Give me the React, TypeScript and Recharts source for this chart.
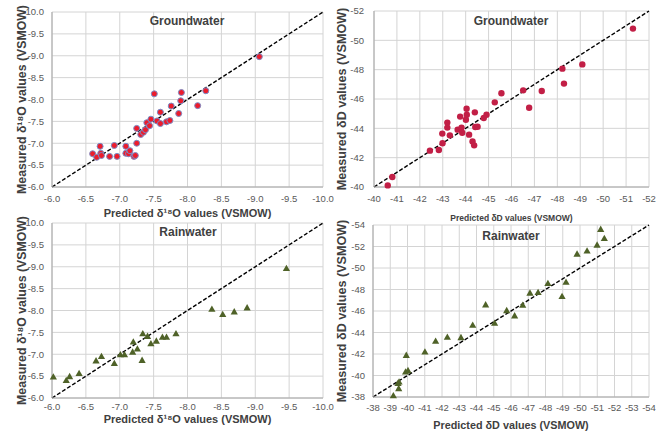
import { ScatterChart, Scatter, XAxis, YAxis, CartesianGrid, ReferenceLine } from "recharts";

// Groundwater, δ18O
const gwO18Predicted = [-6.6, -6.66, -6.71, -6.72, -6.73, -6.85, -6.92, -6.96, -7.09, -7.09, -7.13, -7.15, -7.21, -7.23, -7.25, -7.25, -7.31, -7.35, -7.38, -7.4, -7.44, -7.46, -7.51, -7.55, -7.6, -7.6, -7.69, -7.74, -7.76, -7.87, -7.91, -7.9, -8.15, -8.27, -9.06];
const gwO18Measured = [-6.76, -6.68, -6.93, -6.77, -6.72, -6.7, -6.95, -6.7, -6.93, -6.77, -6.76, -6.83, -6.7, -6.72, -7.0, -7.34, -7.2, -7.25, -7.31, -7.47, -7.4, -7.55, -8.13, -7.51, -7.71, -7.45, -7.49, -7.52, -7.85, -7.68, -8.16, -7.97, -7.86, -8.2, -8.98];

// Groundwater, δD
const gwDPredicted = [-40.6, -40.8, -42.44, -42.83, -42.98, -42.99, -43.2, -43.2, -43.31, -43.65, -43.76, -43.82, -43.85, -44.01, -44.04, -44.05, -44.15, -44.3, -44.37, -44.4, -44.42, -44.52, -44.79, -44.91, -45.27, -45.56, -46.51, -46.77, -47.32, -48.22, -48.29, -49.09, -51.3];
const gwDMeasured = [-40.11, -40.68, -42.48, -42.52, -43.64, -42.98, -44.05, -44.39, -43.52, -43.91, -44.8, -44.05, -43.7, -44.59, -45.34, -44.93, -43.57, -43.11, -42.84, -45.09, -44.09, -44.11, -44.7, -44.93, -45.77, -46.39, -46.59, -45.4, -46.55, -48.07, -47.05, -48.36, -50.8];

// Rainwater, δ18O
const rwO18Predicted = [-6.02, -6.21, -6.26, -6.4, -6.65, -6.73, -6.92, -7.01, -7.07, -7.19, -7.2, -7.26, -7.33, -7.34, -7.41, -7.46, -7.54, -7.63, -7.69, -7.83, -8.36, -8.52, -8.69, -8.88, -9.46];
const rwO18Measured = [-6.48, -6.4, -6.49, -6.56, -6.85, -6.95, -6.79, -6.99, -6.99, -7.05, -7.28, -7.12, -6.86, -7.47, -7.41, -7.24, -7.3, -7.39, -7.39, -7.47, -8.03, -7.91, -7.97, -8.06, -8.96];

// Rainwater, δD
const rwDPredicted = [-39.18, -39.45, -39.49, -39.51, -39.89, -40.03, -39.93, -41.01, -41.63, -42.31, -43.1, -43.78, -44.53, -45.05, -45.75, -46.21, -46.68, -47.1, -47.57, -48.14, -48.96, -49.19, -49.83, -50.41, -50.99, -51.2, -51.41];
const rwDMeasured = [-38.12, -39.27, -38.78, -39.4, -40.33, -40.45, -41.88, -42.19, -43.19, -43.56, -43.53, -44.68, -46.57, -44.86, -46.04, -45.55, -46.54, -47.66, -47.72, -48.56, -47.35, -48.68, -51.3, -51.58, -52.13, -53.59, -52.75];

const o18Ticks = [-6, -6.5, -7, -7.5, -8, -8.5, -9, -9.5, -10];
const gwDXTicks = [-40, -41, -42, -43, -44, -45, -46, -47, -48, -49, -50, -51, -52];
const gwDYTicks = [-40, -42, -44, -46, -48, -50, -52];
const rwDXTicks = [-38, -39, -40, -41, -42, -43, -44, -45, -46, -47, -48, -49, -50, -51, -52, -53, -54];
const rwDYTicks = [-38, -40, -42, -44, -46, -48, -50, -52, -54];

const FONT = "'Liberation Sans Narrow', 'Liberation Sans', Arial, sans-serif";

const zip = (xs: number[], ys: number[]) => xs.map((x, i) => ({ x, y: ys[i] }));

const redDot = (p: any) => <circle cx={p.cx} cy={p.cy} r={3} fill="#ec1c2c" stroke="#7b8cc6" strokeWidth={1} />;
const crimsonDot = (p: any) => <circle cx={p.cx} cy={p.cy} r={3.2} fill="#c21f46" />;
const triangle = (p: any) => (
  <path d={`M${p.cx},${p.cy - 3.8} L${p.cx + 3.6},${p.cy + 2.6} L${p.cx - 3.6},${p.cy + 2.6} Z`} fill="#4f6228" />
);

type PanelProps = {
  left: number;
  top: number;
  width: number;
  height: number;
  margin: { top: number; right: number };
  yWidth: number;
  xHeight: number;
  data: { x: number; y: number }[];
  xTicks: number[];
  yTicks: number[];
  decimals: number;
  title: string;
  titleX: number;
  titleY: number;
  xLabel: string;
  yLabel: string;
  xLabelSize: number;
  yLabelSize: number;
  yLabelX: number;
  xLabelOffset: number;
  xTickGap: number;
  yTickGap: number;
  shape: (p: any) => any;
};

function Panel(p: PanelProps) {
  const lo = p.xTicks[0];
  const hi = p.xTicks[p.xTicks.length - 1];
  const fmt = (v: number) => v.toFixed(p.decimals);
  return (
    <div style={{ position: "absolute", left: p.left, top: p.top, width: p.width, height: p.height }}>
      <ScatterChart width={p.width} height={p.height} margin={{ top: p.margin.top, right: p.margin.right, left: 0, bottom: 0 }}>
        <CartesianGrid stroke="#d4d4d4" />
        <XAxis
          type="number"
          dataKey="x"
          domain={[hi, lo]}
          ticks={p.xTicks}
          reversed
          interval={0}
          height={p.xHeight}
          tickFormatter={fmt}
          tickLine={false}
          tickSize={p.xTickGap}
          tickMargin={0}
          axisLine={{ stroke: "#a6a6a6" }}
          tick={{ fontSize: 9.5, fill: "#595959", fontFamily: FONT }}
          label={{
            value: p.xLabel,
            position: "insideBottom",
            offset: p.xLabelOffset,
            style: { fontSize: p.xLabelSize, fontWeight: "bold", fill: "#404040", fontFamily: FONT },
          }}
        />
        <YAxis
          type="number"
          dataKey="y"
          domain={[p.yTicks[p.yTicks.length - 1], p.yTicks[0]]}
          ticks={p.yTicks}
          reversed
          interval={0}
          width={p.yWidth}
          tickFormatter={fmt}
          tickLine={false}
          tickSize={p.yTickGap}
          tickMargin={0}
          axisLine={{ stroke: "#a6a6a6" }}
          tick={{ fontSize: 9.5, fill: "#595959", fontFamily: FONT }}
          label={{
            value: p.yLabel,
            angle: -90,
            position: "insideLeft",
            offset: p.yLabelX,
            style: { textAnchor: "middle", fontSize: p.yLabelSize, fontWeight: "bold", fill: "#404040", fontFamily: FONT },
          }}
        />
        <ReferenceLine
          segment={[{ x: lo, y: lo }, { x: hi, y: hi }]}
          stroke="#000"
          strokeWidth={1.4}
          strokeDasharray="4 2"
        />
        <Scatter data={p.data} shape={p.shape} isAnimationActive={false} />
      </ScatterChart>
      <div
        style={{
          position: "absolute",
          left: p.titleX - 60,
          top: p.titleY - 8,
          width: 120,
          textAlign: "center",
          fontFamily: FONT,
          fontWeight: "bold",
          fontSize: 12,
          color: "#404040",
          lineHeight: "16px",
        }}
      >
        {p.title}
      </div>
    </div>
  );
}

export default function App() {
  return (
    <div style={{ position: "absolute", left: 0, top: 0, width: 669, height: 432, background: "#fff", overflow: "hidden" }}>
      <Panel
        left={0} top={0} width={335} height={220}
        margin={{ top: 12, right: 12 }} yWidth={52} xHeight={33}
        data={zip(gwO18Predicted, gwO18Measured)}
        xTicks={o18Ticks} yTicks={o18Ticks} decimals={1}
        title="Groundwater" titleX={187} titleY={21}
        xLabel="Predicted δ¹⁸O values (VSMOW)" yLabel="Measured δ¹⁸O values (VSMOW)"
        xLabelSize={11} yLabelSize={12.3} yLabelX={22} xLabelOffset={3}
        xTickGap={8} yTickGap={8} shape={redDot}
      />
      <Panel
        left={335} top={0} width={334} height={224}
        margin={{ top: 11, right: 20 }} yWidth={39} xHeight={37}
        data={zip(gwDPredicted, gwDMeasured)}
        xTicks={gwDXTicks} yTicks={gwDYTicks} decimals={0}
        title="Groundwater" titleX={176} titleY={21}
        xLabel="Predicted δD values (VSMOW)" yLabel="Measured δD values (VSMOW)"
        xLabelSize={8.5} yLabelSize={12.6} yLabelX={7} xLabelOffset={3}
        xTickGap={8} yTickGap={10} shape={crimsonDot}
      />
      <Panel
        left={0} top={215} width={335} height={217}
        margin={{ top: 8, right: 12 }} yWidth={52} xHeight={34}
        data={zip(rwO18Predicted, rwO18Measured)}
        xTicks={o18Ticks} yTicks={o18Ticks} decimals={1}
        title="Rainwater" titleX={188} titleY={17}
        xLabel="Predicted δ¹⁸O values (VSMOW)" yLabel="Measured δ¹⁸O values (VSMOW)"
        xLabelSize={11} yLabelSize={12.3} yLabelX={22} xLabelOffset={9}
        xTickGap={5} yTickGap={8} shape={triangle}
      />
      <Panel
        left={335} top={215} width={334} height={217}
        margin={{ top: 10, right: 20 }} yWidth={38} xHeight={35}
        data={zip(rwDPredicted, rwDMeasured)}
        xTicks={rwDXTicks} yTicks={rwDYTicks} decimals={0}
        title="Rainwater" titleX={176} titleY={21}
        xLabel="Predicted δD values (VSMOW)" yLabel="Measured δD values (VSMOW)"
        xLabelSize={10.8} yLabelSize={12.6} yLabelX={7} xLabelOffset={3}
        xTickGap={7} yTickGap={8} shape={triangle}
      />
    </div>
  );
}
